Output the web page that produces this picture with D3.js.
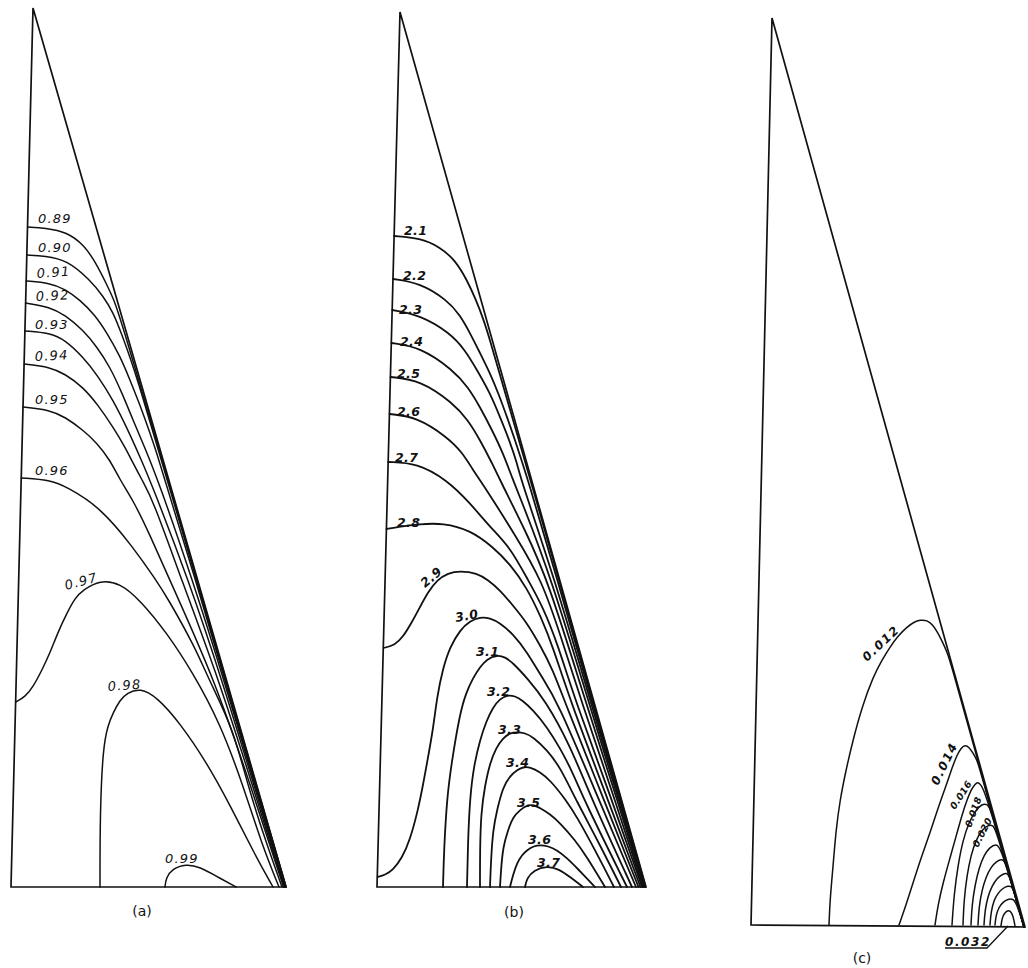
<!DOCTYPE html>
<html>
<head>
<meta charset="utf-8">
<script src="https://cdn.jsdelivr.net/npm/d3@7"></script>
<style>
  html, body { margin: 0; background: #fff; }
  svg { display: block; }
</style>
</head>
<body>
<svg id="fig" width="1028" height="968"></svg>
<script>
// ---------------------------------------------------------------
// Wedge cross-sections, in section units: u along the base (from the
// lower-left corner), v measured upward from the base.
// ---------------------------------------------------------------
const outlineA = [[0, 0], [275, 0], [22, 879]];
const outlineB = [[0, 0], [269, 0], [23, 875]];
const outlineC = [[0, 0], [274, -2], [21, 907]];

// ---- (a) isolines --------------------------------------------
const levelsA = ["0.89", "0.90", "0.91", "0.92", "0.93", "0.94", "0.95", "0.96", "0.97", "0.98", "0.99"];
const isolinesA = [
  [[17,660],[34,659],[56,655],[73,642],[85,624],[95,604],[103,587],[108.5,572],[157.3,407],[186,307],[215,207],[246.7,97],[275,0]],
  [[16,632],[34,631],[56,627],[79,607],[92,591],[102,575],[111,552],[120,527],[128,502],[134,482],[156.3,407],[185.6,307],[214.5,207],[246.5,97],[275,0]],
  [[15.2,606],[39,604],[54,598],[69,587],[84,572],[96,554],[109,531],[119,507],[129,482],[139,454],[147,430],[153.8,407],[184.6,307],[214,207],[246,97],[274.5,0]],
  [[14.6,584],[39,580],[54,572],[72,557],[86,540],[99,520],[111,494],[122,467],[134,439],[147,407],[181.6,307],[213,207],[245.5,97],[274,0]],
  [[14,556],[39,554],[54,547],[72,530],[87,511],[102,487],[116,459],[129,430],[139,407],[177.6,307],[211,207],[244.5,97],[273.5,0]],
  [[13.2,523],[39,520],[54,513],[72,500],[87,482],[102,460],[114,440],[122,424],[131,407],[142,387],[170.6,307],[208,207],[243,97],[273,0]],
  [[12,480],[39,477],[54,470],[72,457],[86,444],[99,427],[109,407],[122,387],[139,352],[158.6,307],[204,207],[241,97],[272.5,0]],
  [[10.5,409],[39,407],[56,400],[89,380],[122,340],[145,307],[156,290],[184,240],[198,207],[222,159],[238,97],[256,42],[271,0]],
  [[4.8,185],[14,190],[22,200],[31,217],[39,234],[47,255],[56,274],[64,289],[72,297],[89,307],[109,304],[129,287],[156,254],[182,214],[209,164],[232,102],[251,42],[268,0]],
  [[89,0],[89,74],[92,140],[97,162],[102,174],[109,187],[116,194],[129,199],[146,190],[169,164],[196,124],[219,82],[244,32],[262,0]],
  [[154,0],[155,9],[161,18],[175,23],[189,20],[205,11],[225,0]]
];
const labelAtA   = [[27,664],[27,635],[26,609],[25,586],[24,558],[24,526],[24,483],[24,412],[55,297],[97,196],[154,24]];
const labelTiltA = [0, 0, -4, -3, 0, -3, 0, 0, -15, -4, 0];

// ---- (b) isolines --------------------------------------------
const levelsB = ["2.1", "2.2", "2.3", "2.4", "2.5", "2.6", "2.7", "2.8", "2.9", "3.0", "3.1", "3.2", "3.3", "3.4", "3.5", "3.6", "3.7"];
const isolinesB = [
  [[17.1,651],[43,649],[63,640],[78,627],[90,607],[99,587],[106,569],[113,547],[123,512],[153.5,407],[182,307],[215.5,187],[244,87],[268.5,0]],
  [[16,608],[43,604],[70,587],[83,572],[93,554],[103,534],[113,514],[122,492],[130,470],[138,447],[145,425],[151,407],[180.5,307],[214.5,187],[243.5,87],[268,0]],
  [[15.2,577],[43,572],[73,554],[88,537],[100,517],[113,494],[123,470],[133,445],[140,424],[144,407],[178,307],[213,187],[243,87],[267.5,0]],
  [[14.3,544],[43,540],[76,517],[91,500],[103,480],[115,457],[126,434],[136,407],[143,390],[175,307],[211,187],[242,87],[267,0]],
  [[13.5,510],[43,507],[76,484],[91,467],[103,447],[115,424],[123,407],[148,357],[171,307],[208,187],[240.5,87],[266.5,0]],
  [[12.5,473],[40,470],[70,450],[85,435],[96,417],[103,407],[116,387],[138,352],[165,307],[185,247],[204,187],[238,87],[266,0]],
  [[11.2,425],[40,424],[70,407],[93,384],[113,360],[133,340],[151,307],[166,280],[181,242],[198,187],[235,87],[265,0]],
  [[9.5,358],[20,360],[43,363],[66,364],[93,357],[116,340],[133,323],[150,299],[164,270],[176,240],[193,187],[231,87],[263.5,0]],
  [[6.5,239],[18,242],[26,250],[35,265],[43,280],[51,295],[60,307],[71,314],[83,316],[100,314],[111,307],[123,297],[138,279],[150,264],[163,242],[176,217],[187,187],[227,87],[261.5,0]],
  [[0.5,10],[8,12],[16,17],[25,29],[33,47],[41,77],[46,102],[50,124],[56,157],[60,190],[66,219],[73,240],[83,257],[93,266],[103,270],[113,269],[123,264],[136,253],[150,235],[164,211],[180,187],[222,87],[259,0]],
  [[66,0],[67,37],[70,90],[75,127],[83,174],[89,194],[96,209],[103,220],[110,228],[120,232],[128,230],[136,224],[150,209],[168,187],[193,142],[215,87],[255,0]],
  [[90,0],[91,47],[93,90],[97,122],[103,147],[109,165],[116,180],[123,188],[130,192],[138,191],[145,187],[156,177],[170,160],[183,139],[196,114],[207,87],[250,0]],
  [[103,0],[103,37],[104,74],[108,102],[113,124],[119,139],[126,149],[133,154],[140,155],[148,154],[156,150],[170,137],[183,120],[199,87],[223,42],[244,0]],
  [[113,0],[114,27],[116,57],[120,77],[126,100],[133,111],[140,117],[146,120],[153,120],[163,115],[173,107],[189,87],[200,70],[218,37],[237,0]],
  [[123,0],[124,17],[126,40],[131,57],[136,70],[143,77],[150,82],[157,82],[163,79],[173,73],[183,64],[198,47],[210,30],[228,0]],
  [[133,0],[136,12],[140,24],[145,32],[150,37],[157,41],[163,42],[171,41],[180,37],[190,29],[200,19],[218,0]],
  [[148,0],[150,9],[157,17],[170,21],[182,18],[193,10],[206,0]]
];
const labelAtB   = [[27,652],[26,607],[22,573],[23,541],[20,509],[20,471],[18,425],[20,360],[48,299],[79,265],[99,231],[110,191],[121,153],[129,120],[140,80],[151,43],[160,20]];
const labelTiltB = [0, 0, 0, 0, 0, 0, 0, 0, -40, -10, 0, 0, 0, 0, 0, 0, 0];

// ---- (c) isolines --------------------------------------------
const levelsC = ["0.012", "0.014", "0.016", "0.018", "0.020", "0.022", "0.024", "0.026", "0.028", "0.030", "0.032"];
const isolinesC = [
  [[78,0],[79,25],[82,58],[85,95],[89,125],[95,155],[102,185],[111,218],[122,248],[131,265],[139,278],[147,289],[156,298],[163,303],[169,305],[176,305],[182,300],[187,292],[192,282],[196,273],[199.5,263],[224,175],[251.5,75],[273,-2]],
  [[148,0],[155,20],[162,42],[170,67],[179,92],[187,117],[196,142],[201,157],[206,170],[210,177],[214,180],[218,178],[222,172],[226,165],[228.5,157],[251.5,75],[273,-2]],
  [[184,0],[187,20],[192,42],[199,67],[206,92],[211,110],[216,125],[220,135],[224,141],[227,143],[230,140],[234,133],[251.5,75],[273,-2]],
  [[201,0],[203,30],[207,60],[212,85],[218,103],[225,115],[231,121],[236,121],[239.5,117],[251.5,75],[273,-2]],
  [[212,0],[213,25],[216,50],[220,70],[225,85],[231,95],[237,100],[242,100],[245,95],[262.5,35],[273,-2]],
  [[220,0],[221,20],[224,40],[228,57],[233,70],[239,78],[245,81],[249.5,78],[262.5,35],[273,-2]],
  [[227,0],[228,18],[231,35],[235,48],[240,58],[246,64],[251,66],[254.5,63],[262.5,35],[273,-2]],
  [[233,0],[234,15],[237,29],[241,39],[246,47],[252,51],[256,52],[259,49],[272.5,0]],
  [[239,0],[240,13],[243,25],[247,32],[252,37],[257,39],[260,39],[263,35],[272.5,0]],
  [[244,0],[245,10],[248,18],[252,23],[257,26],[262,26],[265,23],[272.5,0]],
  [[250,-1],[251,7],[254,13],[258,15],[261,12],[263,5],[264,-1]]
];
// labelled levels of (c): index into levelsC, anchor, tilt
const labelLevelC = [0, 1, 2, 3, 4, 10];
const labelAtC    = [[116,263],[187,139],[204,115],[220,97],[227,77],[194,-21]];
const labelTiltC  = [-43, -64, -57, -70, -63, 0];
// underline and leader from the 0.032 tag to its isoline
const leaderC = [[194,-23],[236,-23],[257,-1]];

const captions = ["(a)", "(b)", "(c)"];
const captionAt = [[131,-24],[137,-25],[111,-33]];

// ---------------------------------------------------------------
// Layout and styles
// ---------------------------------------------------------------
const panels = [
  { outline: outlineA, levels: levelsA, lines: isolinesA,
    labelLevel: levelsA.map((_, i) => i), labelAt: labelAtA, labelTilt: labelTiltA,
    origin: [11, 887], lineWidth: 1.5, font: { size: 13, weight: "normal", style: "italic", spacing: 1.2 } },
  { outline: outlineB, levels: levelsB, lines: isolinesB,
    labelLevel: levelsB.map((_, i) => i), labelAt: labelAtB, labelTilt: labelTiltB,
    origin: [377, 887], lineWidth: 1.8, font: { size: 12.5, weight: "bold", style: "italic", spacing: 0.4 } },
  { outline: outlineC, levels: levelsC, lines: isolinesC,
    labelLevel: labelLevelC, labelAt: labelAtC, labelTilt: labelTiltC, leader: leaderC,
    origin: [751, 925], lineWidth: 1.5, font: { size: 12, weight: "bold", style: "italic", spacing: 1.6 } }
];

const svg = d3.select("#fig");
svg.append("rect").attr("width", 1028).attr("height", 968).attr("fill", "#fff");

panels.forEach((p, i) => {
  const [ox, oy] = p.origin;
  // one section unit maps to one screen pixel
  const x = d3.scaleLinear().domain([0, 100]).range([ox, ox + 100]);
  const y = d3.scaleLinear().domain([0, 100]).range([oy, oy - 100]);

  const g = svg.append("g").attr("class", "panel panel-" + i);

  // B-spline through the traced points keeps hand-traced jitter out
  const smooth = d3.line()
    .x(d => x(d[0])).y(d => y(d[1]))
    .curve(d3.curveBasis);

  // isolines
  g.append("g").selectAll("path")
    .data(p.lines)
    .join("path")
      .attr("d", smooth)
      .attr("fill", "none")
      .attr("stroke", "#111")
      .attr("stroke-width", p.lineWidth)
      .attr("stroke-linejoin", "round")
      .attr("stroke-linecap", "round");

  // section outline
  g.append("path")
    .attr("d", d3.line().x(d => x(d[0])).y(d => y(d[1])).curve(d3.curveLinearClosed)(p.outline))
    .attr("fill", "none")
    .attr("stroke", "#111")
    .attr("stroke-width", 1.7)
    .attr("stroke-linejoin", "miter");

  // leader line for a tag placed outside the section
  if (p.leader) {
    g.append("path")
      .attr("d", d3.line().x(d => x(d[0])).y(d => y(d[1]))(p.leader))
      .attr("fill", "none")
      .attr("stroke", "#111")
      .attr("stroke-width", 1.3);
  }

  // level tags
  g.append("g").selectAll("text")
    .data(p.labelLevel.map((lv, k) => ({ text: p.levels[lv], at: p.labelAt[k], tilt: p.labelTilt[k], k })))
    .join("text")
      .attr("transform", d => `translate(${x(d.at[0])},${y(d.at[1])}) rotate(${d.tilt})`)
      .attr("font-family", "'DejaVu Sans', sans-serif")
      .attr("font-size", d => (i === 2 && d.k >= 2 && d.k <= 4) ? p.font.size - 2.5 : p.font.size)
      .attr("font-weight", p.font.weight)
      .attr("font-style", p.font.style)
      .attr("letter-spacing", d => (i === 2 && d.k >= 2 && d.k <= 4) ? 0.3 : p.font.spacing)
      .attr("fill", "#111")
      .text(d => d.text);

  // panel caption
  g.append("text")
    .attr("x", x(captionAt[i][0]))
    .attr("y", y(captionAt[i][1]))
    .attr("text-anchor", "middle")
    .attr("dominant-baseline", "central")
    .attr("font-family", "'DejaVu Sans', sans-serif")
    .attr("font-size", 14)
    .attr("fill", "#111")
    .text(captions[i]);
});
</script>
</body>
</html>
